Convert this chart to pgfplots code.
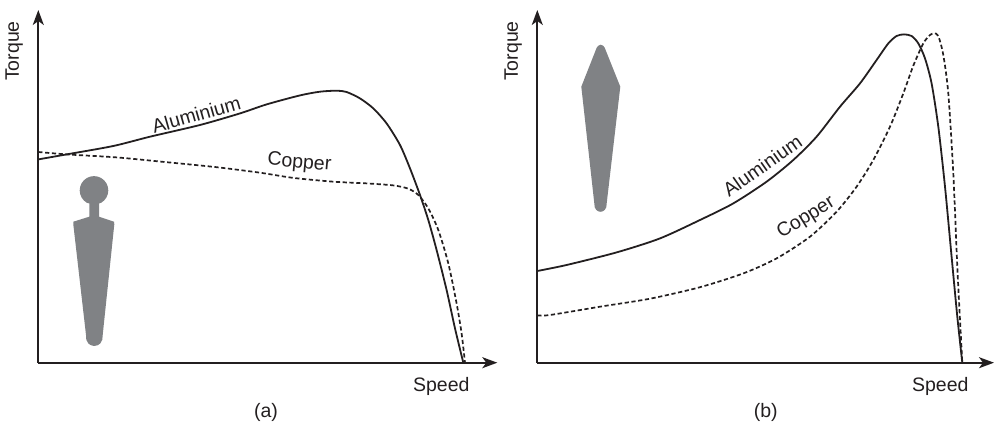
\documentclass[border=0pt]{standalone}
\usepackage{fontspec}
\setmainfont{Liberation Sans}
\usepackage{pgfplots}
\pgfplotsset{compat=1.18}
\usetikzlibrary{arrows.meta}
\definecolor{ink}{HTML}{231F20}
\definecolor{bargray}{HTML}{808285}

\tikzset{lab/.style={font=\fontsize{19.5}{22}\selectfont, text=ink, inner sep=0pt}}
\pgfplotsset{
  torque/.style={
    x=1pt, y=1pt,
    xmin=0, xmax=459, ymin=0, ymax=352.7,
    axis lines=left,
    ticks=none,
    clip=false,
    axis line style={ink, line width=1.8pt, -{Stealth[length=15pt,width=11pt,inset=4pt]}},
    xlabel=Speed,
    ylabel=Torque,
    xlabel style={at={(axis cs:403,-24)}, anchor=center, lab},
    ylabel style={at={(axis cs:-24,311.7)}, anchor=center, rotate=0, lab},
  },
  alu/.style={ink, line width=1.8pt, smooth, tension=0.45, no marks},
  cop/.style={ink, line width=1.7pt, smooth, tension=0.45, no marks, dash pattern=on 4.2pt off 2.6pt},
  part/.style={bargray, fill=bargray, draw=none, no marks},
}

\begin{document}
\begin{tikzpicture}
\path[use as bounding box] (0,0) rectangle (994pt,425pt);

\begin{axis}[torque, at={(38.3pt,62.3pt)}, anchor=south west]
  % rotor bar section
  \addplot[part] coordinates {
    (51,146)(51,159.3)
    (48.55,159.9)(45.6,162.2)(43.3,165.15)(41.9,168.6)(41.4,172.3)(41.9,176)(43.3,179.45)
    (45.6,182.4)(48.55,184.7)(52,186.1)(55.7,186.6)(59.4,186.1)(62.85,184.7)(65.8,182.4)
    (68.1,179.45)(69.5,176)(70,172.3)(69.5,168.6)(68.1,165.15)(65.8,162.2)(62.85,159.9)
    (60.7,159.3)(60.7,146)
    (75.7,141)(76,138.4)(64.4,27.7)(64,23)(62,19.3)(59.5,17.5)(56,16.7)(52.5,17.5)(50,19.3)(48,23)(47.7,27.7)(35,138.4)(35,141)
  } -- cycle;
  \addplot[alu] coordinates {
    (0,203.3)(28.3,208.3)(75,216.7)(111.7,226)(161.7,237.7)(201.7,249.3)(228.3,258.3)
    (261.7,267.3)(281.7,271)(298.3,272)(308.3,270.7)(321.7,264.3)(335,254.3)(348.3,239.3)
    (361.7,217.7)(371.7,194.3)(381.7,167.7)(390,142.7)(398.3,112.7)(408.3,72.7)(416.7,34.3)(425,0)
  };
  \addplot[cop] coordinates {
    (0,210.7)(28.3,208.3)(78.3,205.3)(128.3,200.5)(178.3,195.5)(221.7,190)(255,184.8)
    (295,181)(328.3,179.3)(355,177.3)(370,174)(380,167.7)(390,154.3)(400,132.7)
    (410,99.3)(418.3,59.3)(423.3,29.3)(426.7,0)
  };
  \node[lab, rotate=16] at (axis cs:158,248.2) {Aluminium};
  \node[lab, rotate=-5] at (axis cs:261,199.7) {Copper};
  \node[lab] at (axis cs:227.7,-50) {(a)};
\end{axis}

\begin{axis}[torque, xmax=456.7, at={(537.3pt,62.3pt)}, anchor=south west]
  \addplot[part] coordinates {
    (59.4,315)(61,317)(63.4,318)(65.8,317)(67.4,315)(83,276)(69.4,159.4)(69,155.5)(67.5,152.9)(65.5,151.4)(63.2,150.9)
    (60.9,151.4)(58.9,152.9)(57.4,155.5)(57,159.4)(44,276)
  } -- cycle;
  \addplot[alu] coordinates {
    (0,91.7)(29.3,97.7)(79.3,110.3)(122.7,124.3)(162.7,142.7)(196,159.3)(229.3,181)
    (256,202.7)(279.3,226)(302.7,256)(322.7,279.3)(339.3,302.7)(351,319.3)(359.3,326.7)
    (366.7,328.3)(374.3,326.7)(381,319.3)(387.7,304.3)(394.3,279.3)(401,236)
    (407.7,176)(414.3,106)(420,46)(425,0)
  };
  \addplot[cop] coordinates {
    (0,47.3)(12.7,47.7)(62.7,56)(112.7,64)(162.7,75.5)(206,89.3)(239.3,104.3)
    (272.7,126)(299.3,151)(319.3,176)(336,202.7)(352.7,236)(366,269.3)(376,297)
    (386,319.3)(392.7,327.7)(397,329.3)(401,326.7)(406,307.7)(411,269.3)(416,189.3)
    (420,96)(422.7,42.7)(425,0)
  };
  \node[lab, rotate=35] at (axis cs:225,197) {Aluminium};
  \node[lab, rotate=32] at (axis cs:269,144.7) {Copper};
  \node[lab] at (axis cs:228.4,-50) {(b)};
\end{axis}
\end{tikzpicture}
\end{document}
